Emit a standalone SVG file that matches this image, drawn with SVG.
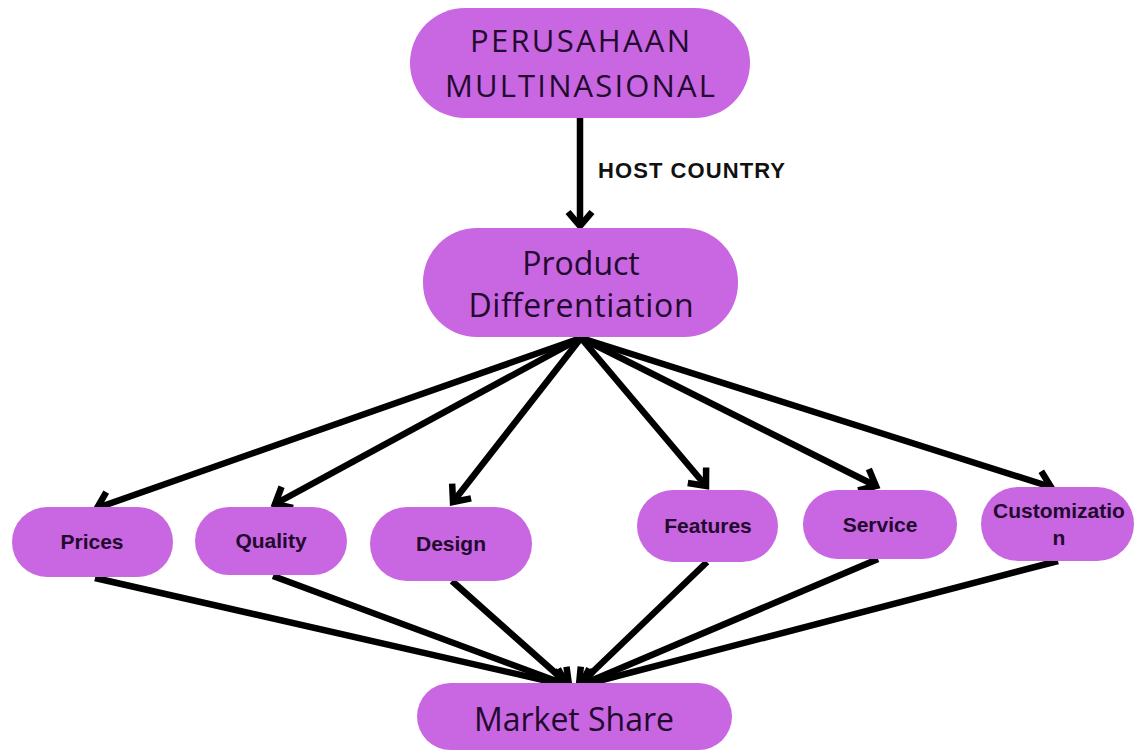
<svg xmlns="http://www.w3.org/2000/svg" width="1136" height="756" viewBox="0 0 1136 756">
<defs>
<style>
.node{fill:#c966e1;}
.big{font-family:"Open Sans","Liberation Sans",sans-serif;fill:#22092e;text-anchor:middle;}
.small{font-family:"Liberation Sans",Arial,sans-serif;font-weight:bold;font-size:21px;fill:#22092e;text-anchor:middle;}
.conn line{stroke:#000;stroke-width:6.5;fill:none;marker-end:url(#arr);}
</style>
<marker id="arr" markerUnits="userSpaceOnUse" markerWidth="40" markerHeight="40" viewBox="-20 -20 40 40" refX="0" refY="0" orient="auto">
<path d="M -14 -12 L 0 0 L -14 12" fill="none" stroke="#000" stroke-width="6.5" stroke-linejoin="miter" stroke-linecap="butt"/>
</marker>
</defs>
<rect width="1136" height="756" fill="#fff"/>
<g class="conn" id="connectors">
<line x1="580" y1="118" x2="580" y2="226"/>
<line x1="581" y1="338" x2="97" y2="508"/>
<line x1="581" y1="338" x2="275" y2="504"/>
<line x1="581" y1="338" x2="453" y2="502"/>
<line x1="581" y1="338" x2="706" y2="486"/>
<line x1="581" y1="338" x2="876" y2="486"/>
<line x1="581" y1="338" x2="1051" y2="487"/>
<line x1="95" y1="578" x2="565" y2="685"/>
<line x1="273" y1="576" x2="567" y2="685"/>
<line x1="452" y1="581" x2="569" y2="685"/>
<line x1="707" y1="562" x2="579" y2="685"/>
<line x1="878" y1="559" x2="581" y2="685"/>
<line x1="1058" y1="561" x2="583" y2="685"/>
</g>
<text x="598" y="178" font-family="Liberation Sans, Arial, sans-serif" font-weight="bold" font-size="22" fill="#111" textLength="187" lengthAdjust="spacing">HOST COUNTRY</text>
<g id="perusahaan">
<rect class="node" x="410" y="8" width="340" height="110" rx="55"/>
<text class="big" x="580" y="52" font-size="31" textLength="220" lengthAdjust="spacing">PERUSAHAAN</text>
<text class="big" x="580" y="97" font-size="31" textLength="270" lengthAdjust="spacing">MULTINASIONAL</text>
</g>
<g id="product">
<rect class="node" x="423" y="228" width="315" height="109" rx="54"/>
<text class="big" x="581" y="275" font-size="32">Product</text>
<text class="big" x="581" y="317" font-size="32" textLength="225" lengthAdjust="spacing">Differentiation</text>
</g>
<g id="prices">
<rect class="node" x="12" y="507" width="161" height="70" rx="35"/>
<text class="small" x="92" y="549">Prices</text>
</g>
<g id="quality">
<rect class="node" x="195" y="507" width="152" height="68" rx="34"/>
<text class="small" x="271" y="548">Quality</text>
</g>
<g id="design">
<rect class="node" x="370" y="507" width="162" height="74" rx="37"/>
<text class="small" x="451" y="551">Design</text>
</g>
<g id="features">
<rect class="node" x="637" y="490" width="141" height="72" rx="36"/>
<text class="small" x="708" y="533">Features</text>
</g>
<g id="service">
<rect class="node" x="803" y="490" width="154" height="69" rx="34.5"/>
<text class="small" x="880" y="532">Service</text>
</g>
<g id="customization">
<rect class="node" x="981" y="487" width="153" height="74" rx="37"/>
<text class="small" x="1059" y="518">Customizatio</text>
<text class="small" x="1059" y="545">n</text>
</g>
<g id="market">
<rect class="node" x="417" y="683" width="315" height="67" rx="33.5"/>
<text class="big" x="574" y="731" font-size="32">Market Share</text>
</g>
</svg>
